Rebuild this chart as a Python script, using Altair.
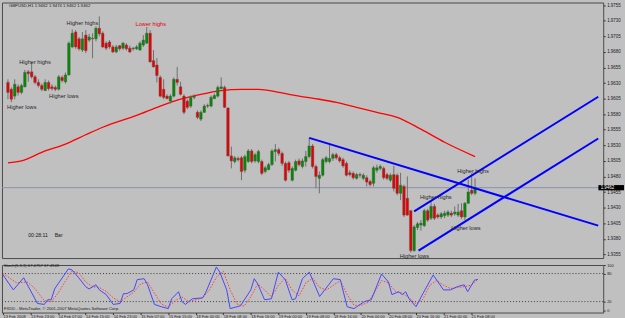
import altair as alt
import pandas as pd

# ---------------- data: GBPUSD H1, bar 0 = 13 Feb 2008 15:00 ----------------
opens = [1.9631, 1.9620, 1.9609, 1.9624, 1.9615, 1.9624, 1.9648, 1.9648, 1.9640, 1.9631,
         1.9626, 1.9618, 1.9631, 1.9624, 1.9623, 1.9620, 1.9639, 1.9632, 1.9643, 1.9688,
         1.9712, 1.9701, 1.9683, 1.9707, 1.9699, 1.9702, 1.9701, 1.9718, 1.9710, 1.9694,
         1.9696, 1.9688, 1.9680, 1.9690, 1.9686, 1.9691, 1.9686, 1.9685, 1.9685, 1.9683,
         1.9691, 1.9694, 1.9710, 1.9666, 1.9659, 1.9639, 1.9620, 1.9609, 1.9601, 1.9609,
         1.9636, 1.9624, 1.9609, 1.9601, 1.9593, 1.9607, 1.9583, 1.9572, 1.9583, 1.9594,
         1.9593, 1.9605, 1.9609, 1.9621, 1.9623, 1.9590, 1.9513, 1.9504, 1.9509, 1.9510,
         1.9490, 1.9504, 1.9521, 1.9505, 1.9504, 1.9504, 1.9488, 1.9491, 1.9499, 1.9520,
         1.9523, 1.9517, 1.9501, 1.9502, 1.9474, 1.9490, 1.9505, 1.9496, 1.9504, 1.9512,
         1.9529, 1.9496, 1.9477, 1.9482, 1.9504, 1.9504, 1.9509, 1.9515, 1.9510, 1.9507,
         1.9501, 1.9486, 1.9485, 1.9477, 1.9483, 1.9477, 1.9478, 1.9472, 1.9469, 1.9490,
         1.9493, 1.9493, 1.9483, 1.9474, 1.9483, 1.9482, 1.9453, 1.9464, 1.9445, 1.9425,
         1.9361, 1.9398, 1.9402, 1.9401, 1.9425, 1.9413, 1.9432, 1.9418, 1.9415, 1.9417,
         1.9418, 1.9421, 1.9420, 1.9418, 1.9425, 1.9415, 1.9437, 1.9458, 1.9453]
highs = [1.9636, 1.9623, 1.9636, 1.9628, 1.9629, 1.9651, 1.9651, 1.9663, 1.9643, 1.9636,
         1.9629, 1.9636, 1.9634, 1.9628, 1.9626, 1.9643, 1.9642, 1.9647, 1.9697, 1.9716,
         1.9715, 1.9704, 1.9712, 1.9715, 1.9709, 1.9710, 1.9721, 1.9737, 1.9713, 1.9697,
         1.9699, 1.9691, 1.9691, 1.9691, 1.9696, 1.9694, 1.9690, 1.9688, 1.9691, 1.9697,
         1.9707, 1.9720, 1.9715, 1.9683, 1.9670, 1.9642, 1.9636, 1.9612, 1.9612, 1.9639,
         1.9656, 1.9632, 1.9612, 1.9604, 1.9610, 1.9612, 1.9586, 1.9586, 1.9596, 1.9597,
         1.9610, 1.9613, 1.9626, 1.9639, 1.9626, 1.9591, 1.9528, 1.9513, 1.9512, 1.9513,
         1.9515, 1.9524, 1.9524, 1.9518, 1.9523, 1.9507, 1.9497, 1.9502, 1.9524, 1.9532,
         1.9526, 1.9520, 1.9504, 1.9505, 1.9496, 1.9507, 1.9509, 1.9509, 1.9521, 1.9542,
         1.9532, 1.9499, 1.9488, 1.9510, 1.9513, 1.9532, 1.9518, 1.9518, 1.9513, 1.9510,
         1.9504, 1.9490, 1.9488, 1.9486, 1.9486, 1.9485, 1.9482, 1.9475, 1.9497, 1.9499,
         1.9499, 1.9496, 1.9486, 1.9485, 1.9497, 1.9485, 1.9486, 1.9467, 1.9480, 1.9426,
         1.9402, 1.9407, 1.9410, 1.9428, 1.9428, 1.9442, 1.9436, 1.9421, 1.9423, 1.9425,
         1.9426, 1.9425, 1.9432, 1.9436, 1.9437, 1.9439, 1.9475, 1.9485, 1.9477]
lows = [1.9604, 1.9599, 1.9604, 1.9610, 1.9612, 1.9623, 1.9632, 1.9637, 1.9628, 1.9623,
        1.9617, 1.9617, 1.9618, 1.9618, 1.9617, 1.9618, 1.9631, 1.9629, 1.9642, 1.9686,
        1.9685, 1.9682, 1.9680, 1.9678, 1.9696, 1.9670, 1.9697, 1.9705, 1.9686, 1.9683,
        1.9685, 1.9678, 1.9678, 1.9682, 1.9683, 1.9682, 1.9678, 1.9682, 1.9683, 1.9682,
        1.9688, 1.9693, 1.9663, 1.9655, 1.9631, 1.9607, 1.9604, 1.9604, 1.9597, 1.9607,
        1.9626, 1.9610, 1.9580, 1.9588, 1.9590, 1.9604, 1.9572, 1.9569, 1.9582, 1.9590,
        1.9591, 1.9604, 1.9607, 1.9620, 1.9590, 1.9512, 1.9493, 1.9501, 1.9504, 1.9474,
        1.9486, 1.9502, 1.9501, 1.9502, 1.9501, 1.9482, 1.9485, 1.9490, 1.9497, 1.9504,
        1.9513, 1.9497, 1.9472, 1.9486, 1.9472, 1.9488, 1.9496, 1.9493, 1.9496, 1.9509,
        1.9493, 1.9461, 1.9453, 1.9480, 1.9501, 1.9501, 1.9505, 1.9507, 1.9502, 1.9494,
        1.9480, 1.9480, 1.9475, 1.9475, 1.9478, 1.9474, 1.9464, 1.9464, 1.9464, 1.9486,
        1.9490, 1.9475, 1.9474, 1.9471, 1.9456, 1.9450, 1.9442, 1.9415, 1.9417, 1.9358,
        1.9359, 1.9394, 1.9393, 1.9399, 1.9407, 1.9410, 1.9410, 1.9412, 1.9412, 1.9413,
        1.9415, 1.9415, 1.9417, 1.9415, 1.9412, 1.9410, 1.9436, 1.9450, 1.9450]
closes = [1.9615, 1.9604, 1.9628, 1.9615, 1.9626, 1.9647, 1.9645, 1.9640, 1.9631, 1.9626,
          1.9620, 1.9631, 1.9621, 1.9621, 1.9620, 1.9640, 1.9634, 1.9643, 1.9694, 1.9710,
          1.9688, 1.9685, 1.9701, 1.9682, 1.9704, 1.9701, 1.9718, 1.9709, 1.9688, 1.9686,
          1.9688, 1.9680, 1.9688, 1.9685, 1.9694, 1.9685, 1.9680, 1.9686, 1.9688, 1.9694,
          1.9699, 1.9710, 1.9664, 1.9656, 1.9642, 1.9609, 1.9607, 1.9605, 1.9609, 1.9636,
          1.9631, 1.9612, 1.9583, 1.9591, 1.9607, 1.9609, 1.9575, 1.9583, 1.9593, 1.9593,
          1.9607, 1.9610, 1.9623, 1.9624, 1.9591, 1.9513, 1.9505, 1.9510, 1.9507, 1.9488,
          1.9512, 1.9521, 1.9504, 1.9515, 1.9520, 1.9485, 1.9494, 1.9499, 1.9521, 1.9523,
          1.9517, 1.9501, 1.9474, 1.9490, 1.9493, 1.9504, 1.9499, 1.9505, 1.9512, 1.9529,
          1.9496, 1.9480, 1.9482, 1.9507, 1.9510, 1.9509, 1.9515, 1.9510, 1.9505, 1.9497,
          1.9482, 1.9483, 1.9478, 1.9483, 1.9482, 1.9482, 1.9471, 1.9467, 1.9494, 1.9494,
          1.9496, 1.9478, 1.9477, 1.9482, 1.9461, 1.9453, 1.9466, 1.9418, 1.9418, 1.9361,
          1.9399, 1.9404, 1.9405, 1.9425, 1.9410, 1.9432, 1.9413, 1.9415, 1.9420, 1.9421,
          1.9423, 1.9418, 1.9423, 1.9423, 1.9415, 1.9437, 1.9455, 1.9453, 1.9462]

# moving average (red) sampled at bars
ma_bar = [0, 4, 11, 17, 23, 28, 38, 45, 51, 57, 63, 69, 74, 80, 86, 92, 97, 103, 109, 115, 122, 129, 138]
ma_val = [1.9502, 1.9505, 1.9521, 1.9532, 1.9547, 1.9559, 1.9578, 1.9593, 1.9604, 1.9612, 1.9618,
          1.9620, 1.9620, 1.9615, 1.9609, 1.9604, 1.9599, 1.9591, 1.9583, 1.9575, 1.9556, 1.9535, 1.9512]

# trend lines (blue): start bar/price -> end bar/price
tl_name = ["down", "down", "chan_up", "chan_up", "chan_lo", "chan_lo"]
tl_bar = [89, 174.4, 120, 174.4, 121.3, 174.4]
tl_price = [1.9542, 1.9401, 1.9424, 1.9608, 1.9361, 1.9541]

bid = 1.9462

# Stochastic (5,3,3)
k_bar = [0, 3, 6, 10, 12, 13, 14, 15, 16, 19, 20, 22, 24, 25, 27, 28, 30, 32, 34, 35, 36, 38, 39, 41,
         42, 44, 46, 48, 49, 51, 52, 53, 55, 58, 59, 62, 63, 65, 66, 68, 69, 72, 73, 74, 76, 78, 80,
         82, 84, 85, 87, 89, 92, 96, 98, 100, 102, 105, 107, 110, 112, 113, 115, 116, 117, 118, 120,
         122, 125, 128, 130, 132, 134, 135, 137, 138]
k_val = [77, 45, 71, 16, 14, 24, 24, 47, 58, 90, 88, 71, 52, 47, 56, 45, 35, 14, 16, 37, 37, 45, 67, 69,
         56, 14, 9, 5, 26, 41, 20, 14, 26, 28, 41, 94, 83, 45, 5, 9, 11, 45, 69, 58, 24, 26, 83,
         67, 24, 26, 69, 83, 31, 69, 67, 9, 5, 20, 24, 79, 62, 35, 41, 35, 41, 26, 9,
         37, 77, 45, 45, 52, 56, 41, 66, 67.48]
d_bar = [0, 4, 7, 9, 12, 14, 16, 18, 20, 22, 24, 26, 28, 30, 32, 34, 36, 38, 40, 42, 44, 46, 48, 50,
         52, 54, 56, 58, 60, 62, 64, 66, 68, 70, 72, 74, 76, 78, 80, 82, 84, 86, 88, 90, 92, 94, 96,
         98, 100, 102, 104, 106, 108, 110, 112, 114, 116, 118, 120, 122, 124, 126, 128, 130, 132, 134,
         136, 138]
d_val = [80, 60, 62, 50, 22, 20, 38, 62, 85, 82, 62, 52, 50, 42, 28, 20, 30, 40, 58, 62, 38, 15, 8, 22,
         30, 20, 24, 28, 45, 72, 85, 45, 15, 10, 30, 58, 45, 30, 55, 70, 45, 32, 60, 70, 50, 45, 55,
         65, 35, 12, 12, 18, 40, 65, 60, 42, 38, 28, 15, 25, 55, 65, 55, 48, 50, 52,
         55, 67.49]

price_ticks = [1.9355, 1.9380, 1.9405, 1.9430, 1.9455, 1.9480, 1.9505, 1.9530, 1.9555,
               1.9580, 1.9605, 1.9630, 1.9655, 1.9680, 1.9705, 1.9730, 1.9755]
date_ticks = [0, 8, 16, 24, 32, 40, 48, 56, 64, 72, 80, 88, 96, 104, 112, 120, 128, 136]
date_labels = ["13 Feb 2008", "13 Feb 23:00", "14 Feb 07:00", "14 Feb 15:00", "14 Feb 23:00",
               "15 Feb 07:00", "15 Feb 15:00", "18 Feb 00:00", "18 Feb 08:00", "18 Feb 16:00",
               "19 Feb 00:00", "19 Feb 08:00", "19 Feb 16:00", "20 Feb 00:00", "20 Feb 08:00",
               "20 Feb 16:00", "21 Feb 00:00", "21 Feb 08:00"]

notes_text = ["Higher highs", "Higher lows", "Higher highs", "Lower highs",
              "Higher highs", "Higher highs", "Higher lows", "Higher lows"]
notes_bar = [8.0, 16.5, 22.0, 42.2, 137.4, 126.4, 135.3, 120.1]
notes_price = [1.9664, 1.9609, 1.9726, 1.9724, 1.9488, 1.9447, 1.9398, 1.9353]
notes_color = ["#262626", "#262626", "#262626", "#e00000", "#262626", "#262626", "#262626", "#262626"]

FONT = "Liberation Sans"
BG = "#c0c0c0"
GREEN = "#008c00"
RED = "#e80000"

xs = alt.Scale(domain=[-0.3, 174.4], nice=False, zero=False)
ys = alt.Scale(domain=[1.9349, 1.97593], nice=False, zero=False)

price_axis = alt.Axis(
    orient="right", values=price_ticks, format=".4f", title=None, grid=False,
    labelFontSize=4.5, labelFont=FONT, labelColor="#1a1a1a", tickSize=2,
    tickColor="#333333", labelPadding=1.5, domain=False, labelOverlap=False,
    labelBound=False, labelFlush=False)
YP = lambda f: alt.Y(f, scale=ys, axis=price_axis)

candles = pd.DataFrame({"bar": list(range(len(opens))), "open": opens, "high": highs,
                        "low": lows, "close": closes})

X = alt.X("bar:Q", scale=xs, axis=None)
wicks = alt.Chart(candles).mark_rule(color="#6e6e6e", strokeWidth=1).encode(
    x=X, y=YP("low:Q"), y2="high:Q")
bodies = alt.Chart(candles).mark_bar(size=2.6, stroke="#555555", strokeWidth=0.4).encode(
    x=X, y=YP("open:Q"), y2="close:Q",
    color=alt.condition("datum.close >= datum.open", alt.value(GREEN), alt.value(RED)))

ma_df = pd.DataFrame({"bar": ma_bar, "price": ma_val})
ma = alt.Chart(ma_df).mark_line(color="#ff0000", strokeWidth=1.3, interpolate="monotone").encode(
    x=X, y=YP("price:Q"))

bid_df = pd.DataFrame({"price": [bid]})
bidline = alt.Chart(bid_df).mark_rule(color="#8890b0", strokeWidth=1).encode(y=YP("price:Q"))

tl_df = pd.DataFrame({"name": tl_name, "bar": tl_bar, "price": tl_price})
tlines = alt.Chart(tl_df).mark_line(color="#0000ff", strokeWidth=2, clip=True).encode(
    x=X, y=YP("price:Q"), detail="name:N")

notes_df = pd.DataFrame({"t": notes_text, "bar": notes_bar, "price": notes_price, "c": notes_color})
notes = alt.Chart(notes_df).mark_text(font=FONT, fontSize=5.7, baseline="middle").encode(
    x=X, y=YP("price:Q"), text="t:N", color=alt.Color("c:N", scale=None))

left_note = alt.Chart(pd.DataFrame({"t": ["Higher lows"], "bar": [-0.25], "price": [1.9591]})).mark_text(
    font=FONT, fontSize=5.7, align="left", baseline="middle", color="#262626").encode(
    x=X, y=YP("price:Q"), text="t:N")

info_df = pd.DataFrame({"t": ["GBPUSD,H1  1.9462 1.9474 1.9462 1.9462", "00:28:11", "Bar"],
                        "bar": [0.3, 6.0, 13.8], "price": [1.9753, 1.9386, 1.9386],
                        "fs": [4.3, 5.2, 5.2]})
info = alt.Chart(info_df).mark_text(font=FONT, align="left", baseline="middle", color="#1a1a1a").encode(
    x=X, y=YP("price:Q"), text="t:N", size=alt.Size("fs:Q", scale=None))

box_df = pd.DataFrame({"b1": [174.45], "b2": [182.0], "p1": [bid - 0.00042], "p2": [bid + 0.00042],
                       "bar": [175.1], "price": [bid], "t": ["1.9462"]})
box = alt.Chart(box_df).mark_rect(color="#000000").encode(
    x=alt.X("b1:Q", scale=xs, axis=None), x2="b2:Q",
    y=YP("p1:Q"), y2="p2:Q")
boxtxt = alt.Chart(box_df).mark_text(font=FONT, fontSize=4.5, align="left", baseline="middle",
                                     color="#ffffff").encode(
    x=X, y=YP("price:Q"), text="t:N")

main = alt.layer(bidline, ma, wicks, bodies, tlines, notes, left_note, info, box, boxtxt).properties(
    width=607, height=258)

# ---------------- stochastic panel ----------------
ss = alt.Scale(domain=[-3.4, 98.3], nice=False, zero=False)
label_js = "[" + ",".join("'" + s + "'" for s in date_labels) + "][round(datum.value/8)]"
XS = alt.X("bar:Q", scale=xs, axis=alt.Axis(
    values=date_ticks, labelExpr=label_js, labelAlign="left", labelFontSize=4,
    labelFont=FONT, labelColor="#1a1a1a", tickSize=2, tickColor="#333333", labelPadding=0.5,
    title=None, grid=False, domain=False, labelOverlap=False, labelBound=False, labelFlush=False))
stoch_axis = alt.Axis(
    orient="right", values=[0, 20, 80, 97.5],
    labelExpr="datum.value > 90 ? '100' : datum.label", title=None, grid=False,
    labelFontSize=4, labelFont=FONT, labelColor="#1a1a1a", tickSize=2,
    tickColor="#333333", labelPadding=1.5, domain=False, labelOverlap=False)
YS = lambda f: alt.Y(f, scale=ss, axis=stoch_axis)

k_df = pd.DataFrame({"bar": k_bar, "v": k_val})
d_df = pd.DataFrame({"bar": d_bar, "v": d_val})
kline = alt.Chart(k_df).mark_line(color="#4646ff", strokeWidth=1).encode(x=XS, y=YS("v:Q"))
dline = alt.Chart(d_df).mark_line(color="#ff3c3c", strokeWidth=1, strokeDash=[1.5, 1.5]).encode(
    x=XS, y=YS("v:Q"))
lev = alt.Chart(pd.DataFrame({"v": [20, 80]})).mark_rule(
    color="#3c3c3c", strokeWidth=1, strokeDash=[1, 2]).encode(y=YS("v:Q"))
st_df = pd.DataFrame({"t": ["Stoch(5,3,3) 67.4757 67.4949",
                            "FXDD - MetaTrader, \u00a9 2001-2007 MetaQuotes Software Corp."],
                      "bar": [0.3, 0.3], "v": [95.4, 4.8]})
sttxt = alt.Chart(st_df).mark_text(font=FONT, fontSize=4.2, align="left", baseline="middle",
                                   color="#1a1a1a").encode(
    x=XS, y=YS("v:Q"), text="t:N")

stoch = alt.layer(lev, dline, kline, sttxt).properties(width=607, height=48)

chart = alt.vconcat(main, stoch, spacing=3).configure(
    background=BG, padding={"left": 0, "top": 0, "right": 0, "bottom": 0}
).configure_axis(labelOverlap=False).configure_view(stroke="#4a4a4a", strokeWidth=1, fill=BG)

chart.save("out.html", embed_options={"renderer": "svg", "actions": False})
